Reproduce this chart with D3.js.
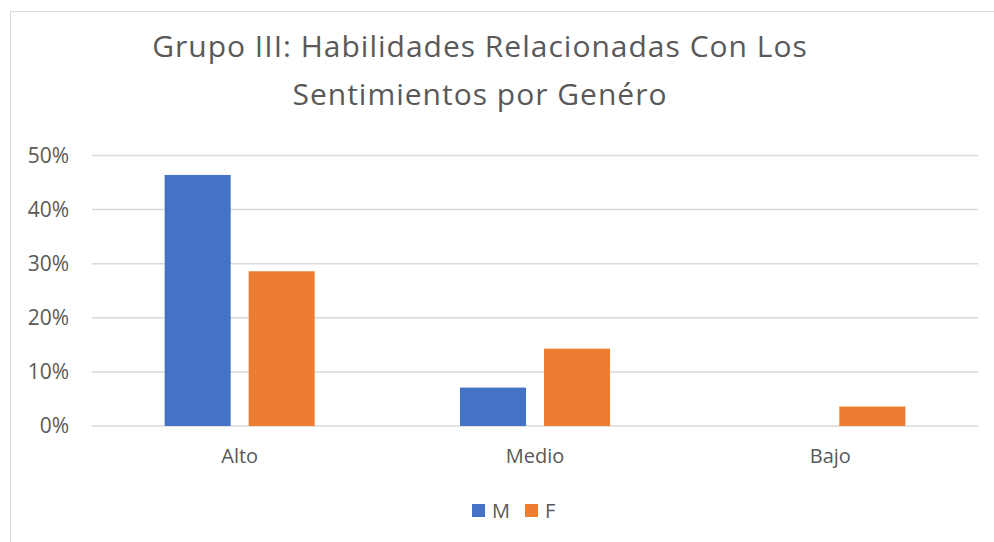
<!DOCTYPE html>
<html>
<head>
<meta charset="utf-8">
<script src="https://cdn.jsdelivr.net/npm/d3@7"></script>
<style>
  body { margin: 0; background: #fff; }
  text { font-family: "Open Sans", "Noto Sans", sans-serif; fill: #595959; }
</style>
</head>
<body>
<script>
// datos del gráfico
const categories = ["Alto", "Medio", "Bajo"];
const seriesNames = ["M", "F"];
const valuesM = [0.464, 0.071, 0];
const valuesF = [0.286, 0.143, 0.036];
const yTicks = [0, 0.1, 0.2, 0.3, 0.4, 0.5];
const colors = ["#4472c4", "#ed7d31"];

const w = 994;
const h = 542;
const margin = { top: 155.5, right: 16, bottom: 116, left: 92 };

const svg = d3.select("body")
  .append("svg")
  .attr("width", w)
  .attr("height", h);

// borde del área del gráfico
svg.append("rect")
  .attr("x", 10.5)
  .attr("y", 11.5)
  .attr("width", w)
  .attr("height", h)
  .attr("fill", "none")
  .attr("stroke", "#d9d9d9")
  .attr("stroke-width", 1);

// título
const title = svg.append("text")
  .attr("text-anchor", "middle")
  .style("font-size", "30px")
  .style("letter-spacing", "1px");
title.append("tspan").attr("x", 480).attr("y", 57).text("Grupo III: Habilidades Relacionadas Con Los");
title.append("tspan").attr("x", 480).attr("y", 105).text("Sentimientos por Genéro");

const x0 = d3.scaleBand()
  .domain(categories)
  .range([margin.left, w - margin.right])
  .paddingInner(0.492)
  .paddingOuter(0.246);

const x1 = d3.scaleBand()
  .domain(seriesNames)
  .range([0, x0.bandwidth()])
  .paddingInner(0.214);

const y = d3.scaleLinear()
  .domain([0, 0.5])
  .range([h - margin.bottom, margin.top]);

// líneas de cuadrícula
svg.append("g")
  .selectAll("line")
  .data(yTicks)
  .enter()
  .append("line")
  .attr("x1", margin.left)
  .attr("x2", w - margin.right)
  .attr("y1", d => y(d))
  .attr("y2", d => y(d))
  .attr("stroke", "#d9d9d9")
  .attr("stroke-width", 1.5);

// eje Y
const yAxis = svg.append("g")
  .attr("transform", `translate(${margin.left - 23},0)`)
  .call(d3.axisLeft(y).tickValues(yTicks).tickFormat(d3.format(".0%")).tickSize(0).tickPadding(0));
yAxis.select(".domain").remove();
yAxis.selectAll("text").style("font-size", "21px").attr("fill", "#595959");

// eje X
const xAxis = svg.append("g")
  .attr("transform", `translate(0,${h - margin.bottom + 23})`)
  .call(d3.axisBottom(x0).tickSize(0).tickPadding(0));
xAxis.select(".domain").remove();
xAxis.selectAll("text").style("font-size", "20px").attr("fill", "#595959");

// barras
const rows = categories.map((c, i) => ({ cat: c, vals: [valuesM[i], valuesF[i]] }));
svg.append("g")
  .selectAll("g")
  .data(rows)
  .enter()
  .append("g")
  .attr("transform", d => `translate(${x0(d.cat)},0)`)
  .selectAll("rect")
  .data(d => d.vals.map((v, j) => ({ key: seriesNames[j], value: v, color: colors[j] })))
  .enter()
  .append("rect")
  .attr("x", d => x1(d.key))
  .attr("y", d => y(d.value))
  .attr("width", x1.bandwidth())
  .attr("height", d => y(0) - y(d.value))
  .attr("fill", d => d.color);

// leyenda
const legend = svg.append("g")
  .selectAll("g")
  .data(seriesNames)
  .enter()
  .append("g")
  .attr("transform", (d, i) => `translate(${472 + i * 53},504)`);
legend.append("rect")
  .attr("width", 13)
  .attr("height", 13)
  .attr("fill", (d, i) => colors[i]);
legend.append("text")
  .attr("x", 20)
  .attr("y", 14)
  .style("font-size", "20px")
  .text(d => d);
</script>
</body>
</html>
